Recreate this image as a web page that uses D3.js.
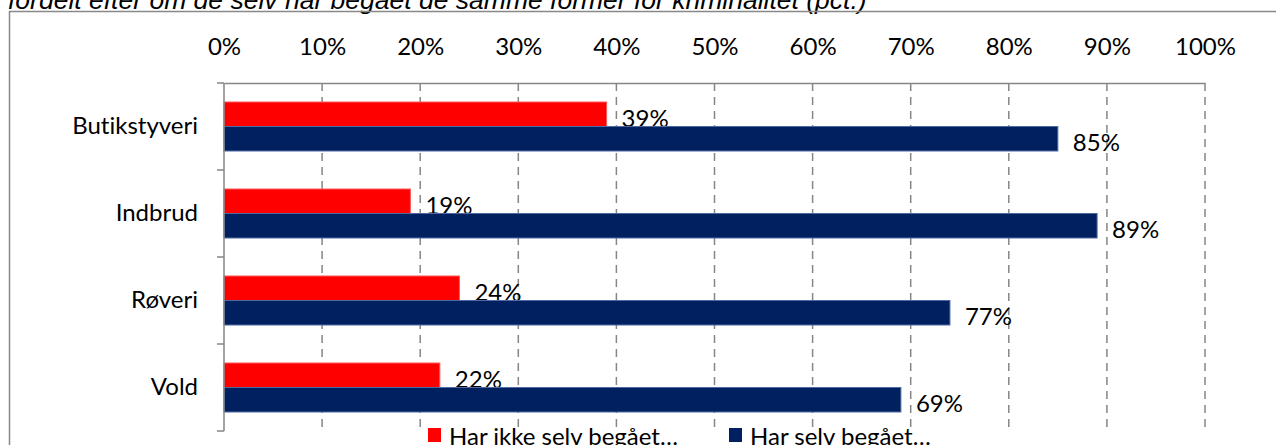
<!DOCTYPE html>
<html>
<head>
<meta charset="utf-8">
<script src="https://cdn.jsdelivr.net/npm/d3@7"></script>
<style>
  html, body { margin: 0; padding: 0; background: #fff; }
  svg { display: block; }
  text { font-variant-ligatures: none; font-feature-settings: "liga" 0; }
</style>
</head>
<body>
<svg id="chart" width="1276" height="445"></svg>
<script>
const title = "fordelt efter om de selv har begået de samme former for kriminalitet (pct.)";
const categories = ["Butikstyveri", "Indbrud", "Røveri", "Vold"];
const seriesNames = ["Har ikke selv begået…", "Har selv begået…"];
const notCommitted = [39, 19, 24, 22];
const committed = [85, 89, 74, 69];
const notCommittedLabels = ["39%", "19%", "24%", "22%"];
const committedLabels = ["85%", "89%", "77%", "69%"];
const ticks = [0, 10, 20, 30, 40, 50, 60, 70, 80, 90, 100];
const colors = ["#FF0000", "#002060"];
const strokes = ["#ff5a5a", "#4f6aa3"];

const series = [
  { name: seriesNames[0], values: notCommitted, labels: notCommittedLabels },
  { name: seriesNames[1], values: committed, labels: committedLabels }
];

const svg = d3.select("#chart");
const font = "Lato, 'Open Sans', sans-serif";
const fs = 24;
const plotLeft = 224, plotRight = 1205, plotTop = 83, plotBottom = 431;

// title (cut off at the top, as in the source)
svg.append("text")
  .attr("x", 8).attr("y", 9)
  .attr("font-family", "'Liberation Sans', Arial, sans-serif")
  .attr("font-style", "italic")
  .attr("font-size", 26.5)
  .attr("fill", "#000")
  .text(title);

// outer frame
svg.append("rect")
  .attr("x", 9.5).attr("y", 11.5)
  .attr("width", 1400).attr("height", 600)
  .attr("fill", "none").attr("stroke", "#898989").attr("stroke-width", 1.5);

const x = d3.scaleLinear().domain([0, 100]).range([plotLeft, plotRight]);
const y = d3.scaleBand().domain(categories).range([plotTop, plotBottom]).padding(0);
const ySub = d3.scaleBand().domain([0, 1]).range([0, y.bandwidth()]).paddingInner(0).paddingOuter(0.7755);

// gridlines
svg.append("g").selectAll("line").data(ticks.filter(t => t > 0)).join("line")
  .attr("x1", d => x(d)).attr("x2", d => x(d))
  .attr("y1", plotTop).attr("y2", plotBottom)
  .attr("stroke", "#868686").attr("stroke-width", 1.5)
  .attr("stroke-dasharray", "8,6");

// top value axis
const xAxis = d3.axisTop(x).tickValues(ticks).tickFormat(d => d + "%").tickSize(0).tickPadding(0);
const gx = svg.append("g").attr("transform", `translate(0,${plotTop})`).call(xAxis);
gx.select(".domain").attr("stroke", "#868686").attr("stroke-width", 1.5);
gx.selectAll("text")
  .attr("y", 55 - plotTop)
  .attr("dy", 0)
  .attr("font-family", font).attr("font-size", fs).attr("fill", "#000");

// bars
const gBars = svg.append("g");
series.forEach((s, si) => {
  gBars.selectAll(null).data(categories).join("rect")
    .attr("x", x(0))
    .attr("y", (c) => y(c) + ySub(si))
    .attr("width", (c, i) => x(s.values[i]) - x(0))
    .attr("height", ySub.bandwidth())
    .attr("fill", colors[si])
    .attr("stroke", strokes[si]).attr("stroke-width", 1);
  gBars.selectAll(null).data(categories).join("text")
    .attr("x", (c, i) => x(s.values[i]) + 15)
    .attr("y", (c) => y(c) + ySub(si) + ySub.bandwidth() / 2 + 3)
    .attr("dominant-baseline", "central")
    .attr("font-family", font).attr("font-size", fs).attr("fill", "#000")
    .text((c, i) => s.labels[i]);
});

// category axis
const yAxis = d3.axisLeft(y).tickSize(0).tickPadding(26);
const gy = svg.append("g").attr("transform", `translate(${plotLeft},0)`).call(yAxis);
gy.select(".domain").remove();
gy.selectAll("text").attr("font-family", font).attr("font-size", fs).attr("fill", "#000");
svg.append("line").attr("x1", plotLeft).attr("x2", plotLeft).attr("y1", plotTop).attr("y2", plotBottom)
  .attr("stroke", "#868686").attr("stroke-width", 1.5);
const bounds = categories.map(c => y(c)).concat([plotBottom]);
svg.append("g").selectAll("line").data(bounds).join("line")
  .attr("x1", plotLeft - 7).attr("x2", plotLeft)
  .attr("y1", d => d).attr("y2", d => d)
  .attr("stroke", "#868686").attr("stroke-width", 1.5);

// legend
const legend = svg.append("g");
const legX = [428, 729];
series.forEach((s, si) => {
  legend.append("rect").attr("x", legX[si]).attr("y", 428).attr("width", 13).attr("height", 14)
    .attr("fill", colors[si]);
  legend.append("text").attr("x", legX[si] + 21).attr("y", 445)
    .attr("font-family", font).attr("font-size", fs).attr("fill", "#000")
    .text(s.name);
});
</script>
</body>
</html>
